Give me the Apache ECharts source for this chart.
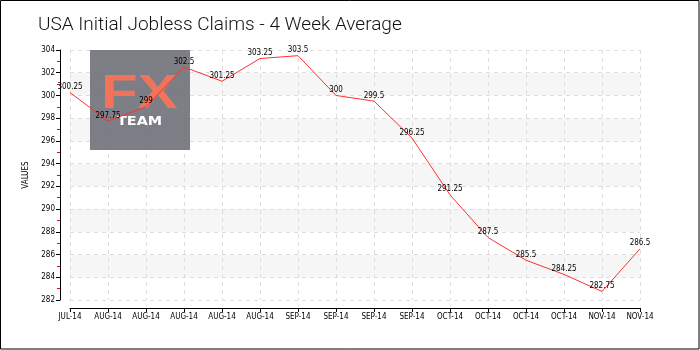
<!DOCTYPE html>
<html>
<head>
<meta charset="utf-8">
<script src="https://cdn.jsdelivr.net/npm/echarts@6/dist/echarts.min.js"></script>
<style>html,body{margin:0;padding:0;background:#fff}#c{width:700px;height:350px}</style>
</head>
<body>
<div id="c"></div>
<script>
var categories = ['JUL-14','AUG-14','AUG-14','AUG-14','AUG-14','AUG-14','SEP-14','SEP-14','SEP-14','SEP-14','OCT-14','OCT-14','OCT-14','OCT-14','NOV-14','NOV-14'];
var values = [300.25, 297.75, 299, 302.5, 301.25, 303.25, 303.5, 300, 299.5, 296.25, 291.25, 287.5, 285.5, 284.25, 282.75, 286.5];
var yMin = 282, yMax = 304, yStep = 2;
var titleText = 'USA Initial Jobless Claims - 4 Week Average';
var yName = 'VALUES';

var smallFont = 'DejaVu Sans Condensed';
var chart = echarts.init(document.getElementById('c'), null, {renderer: 'canvas'});
chart.setOption({
  animation: false,
  backgroundColor: '#fff',
  title: {
    text: titleText, left: 33, top: 11,
    textStyle: {fontFamily: 'Roboto', fontSize: 19, fontWeight: 300, color: '#111'}
  },
  grid: {left: 70, right: 60, top: 50, bottom: 50},
  graphic: [
    {type: 'rect', z: 1, silent: true,
      shape: {x: 90, y: 50, width: 100, height: 100}, style: {fill: 'rgba(112,112,122,0.9)'}},
    {type: 'text', z: 1, silent: true, x: 101, y: 71, scaleX: 1.25,
      style: {text: 'FX', fill: '#f0735c', font: 'bold 48px "Liberation Sans"'}},
    {type: 'text', z: 1, silent: true, x: 117, y: 116, scaleX: 1.2,
      style: {text: 'TEAM', fill: '#ffffff', font: 'bold 12px "DejaVu Sans"'}},
    {type: 'rect', z: 100, silent: true,
      shape: {x: 0.5, y: 0.5, width: 698.5, height: 348.5}, style: {fill: 'none', stroke: '#000', lineWidth: 1}}
  ],
  xAxis: {
    type: 'category', data: categories, boundaryGap: false, offset: 8,
    axisLine: {lineStyle: {color: '#000', width: 1}},
    axisTick: {show: true, length: 4, lineStyle: {color: '#000'}, interval: 0},
    axisLabel: {interval: 0, margin: 5, color: '#000', fontSize: 8, fontFamily: smallFont},
    splitLine: {show: true, interval: 0, lineStyle: {color: '#ddd', type: [4, 4]}}
  },
  yAxis: {
    type: 'value', min: yMin, max: yMax, interval: yStep, offset: 10,
    name: yName, nameLocation: 'middle', nameGap: 24, nameRotate: 90,
    nameTextStyle: {color: '#000', fontSize: 8, fontFamily: smallFont},
    axisLine: {show: true, lineStyle: {color: '#000', width: 1}},
    axisTick: {show: true, length: 4, lineStyle: {color: '#000'}},
    minorTick: {show: true, splitNumber: 2, length: 3, lineStyle: {color: '#e00'}},
    axisLabel: {margin: 5, color: '#000', fontSize: 8, fontFamily: smallFont},
    splitLine: {show: true, lineStyle: {color: '#ddd', type: [4, 4]}},
    splitArea: {show: true, areaStyle: {color: ['#ffffff', '#f6f6f6']}}
  },
  series: [{
    type: 'line', data: values, z: 5, symbol: 'circle', symbolSize: 1, showSymbol: true,
    itemStyle: {color: 'rgba(255,48,48,0)', borderWidth: 0},
    lineStyle: {color: '#ff3030', width: 1},
    labelLayout: {hideOverlap: false},
    label: {show: true, position: 'top', distance: 1, color: '#000', fontSize: 8, fontFamily: smallFont,
      formatter: function (p) { return String(p.value); }}
  }]
});
</script>
</body>
</html>
